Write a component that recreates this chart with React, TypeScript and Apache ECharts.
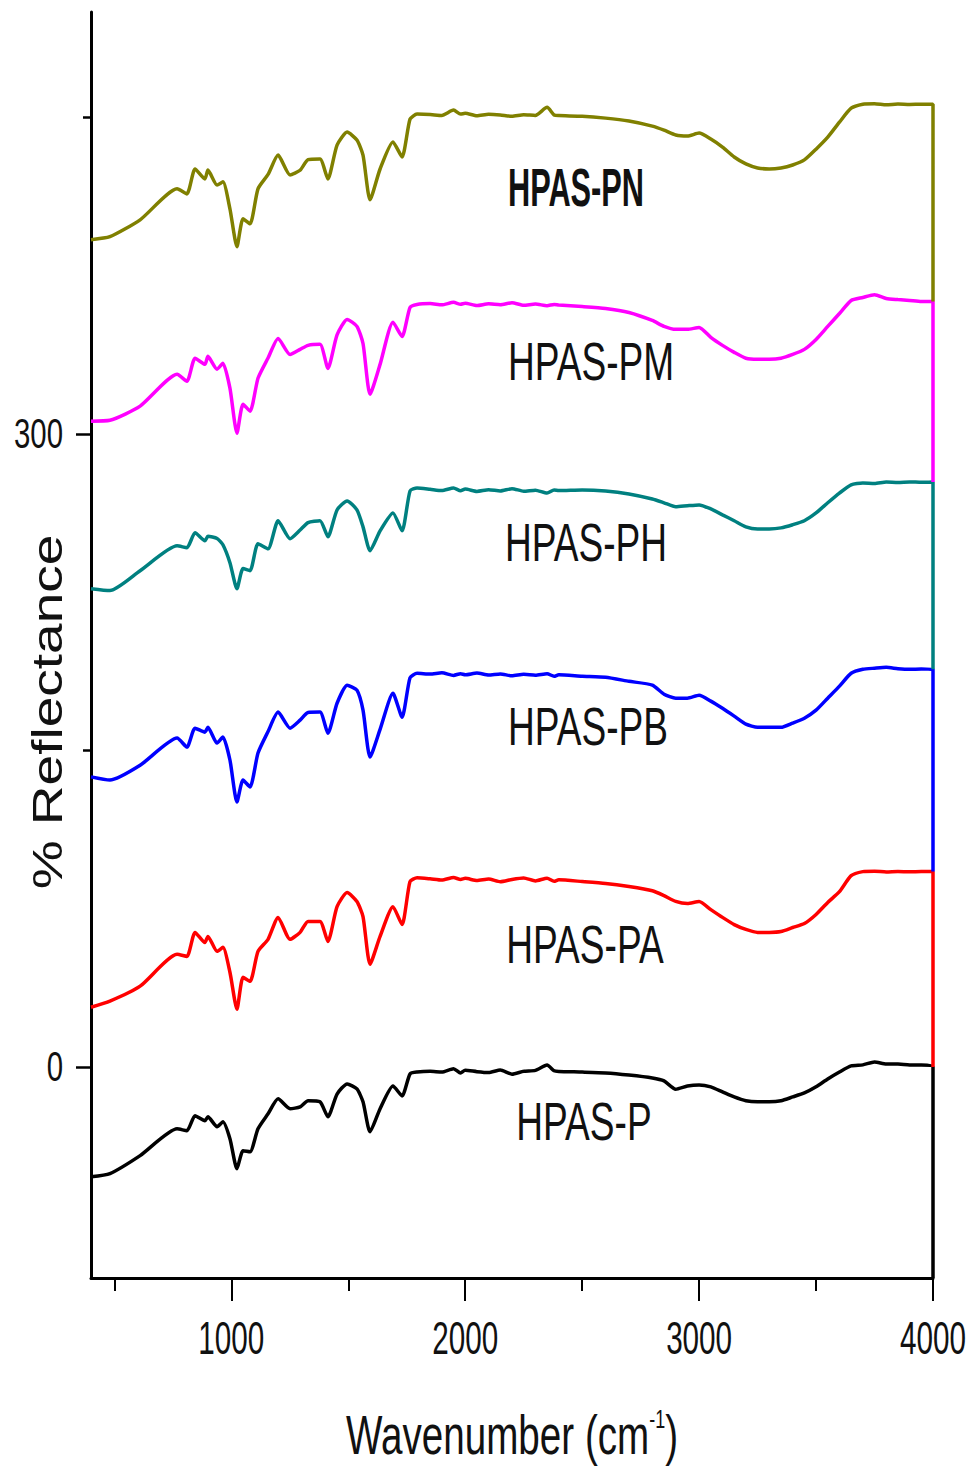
import React, { useEffect, useRef } from "react";
import * as echarts from "echarts";

const wavenumbers = [400, 481, 610, 768, 810, 845, 887, 900, 939, 964, 994, 1024, 1050, 1080, 1114, 1157, 1200, 1251, 1294, 1328, 1379, 1413, 1452, 1495, 1537, 1563, 1593, 1636, 1691, 1730, 1764, 1794, 1850, 1900, 1950, 1980, 2000, 2050, 2100, 2150, 2200, 2250, 2300, 2350, 2380, 2400, 2500, 2600, 2700, 2800, 2850, 2900, 2950, 3000, 3050, 3100, 3150, 3200, 3250, 3300, 3350, 3400, 3450, 3500, 3550, 3600, 3650, 3700, 3750, 3800, 3850, 3900, 3950, 4000];

const hpasP = [-52, -50.5, -42, -29.3, -30.2, -23.1, -25.5, -23.6, -28.3, -26, -34, -48.2, -39.7, -40.2, -29.3, -22.2, -15.1, -19.8, -18.9, -16, -16.5, -23.6, -12.8, -8, -10.4, -16.5, -30.7, -19.8, -9, -13.7, -3.3, -2.4,
  -2.0, -2.4, -0.8, -2.9, -1.5, -2.2, -2.6, -1.4, -3.4, -2.0, -1.6, 0.9, -1.8, -2.1,
  -2.4, -2.8, -3.8, -5.2,
  -6.6, -10.5, -9, -8.5, -9.4, -11.8, -14.2, -16, -16.5, -16.5, -16, -14.2, -12.3, -9.4, -5.7, -2.4, 0.5, 1, 2.4, 1.4, 1.4, 1, 1, 0];

const hpasPA = [28.3, 31.2, 38.3, 53.4, 52.4, 63.8, 59, 61.9, 54.8, 56.7, 44.9, 27.4, 42.5, 40.6, 54.8, 60.5, 70.9, 60.5, 63.8, 69, 69, 59.5, 76, 82.7, 78.4, 71.3, 48.7, 61.9, 76, 67.5, 87.9, 89.7,
  89.2, 88.6, 89.8, 88.9, 89.4, 88.4, 89.1, 87.8, 88.9, 89.6, 88.2, 89.5, 88.0, 88.7,
  87.9, 87, 85.5, 83.5,
  81.2, 78.5, 77.5, 78.4, 74.6, 70.9, 67.5, 65.2, 63.8, 63.8, 64.2, 66.1, 68, 72.3, 78, 83.1, 90.7, 92.6, 92.8, 92.4, 92.6, 92.5, 92.6, 92.6];

const hpasPB = [137.5, 136, 143, 155.9, 151.6, 160.6, 158.7, 161, 153.5, 156.4, 145.5, 125.6, 136, 132.7, 148.8, 159, 168.2, 160.6, 164.4, 168, 168.2, 158.2, 172.4, 180.9, 178.6, 169.1, 146.9, 160, 177.1, 165.8, 184.5, 186.6,
  186.2, 186.8, 185.6, 186.4, 185.9, 186.7, 185.8, 186.3, 185.4, 186.1, 185.7, 186.4, 185.2, 185.9,
  185.2, 184.7, 182.8, 181,
  176.7, 174.8, 174.8, 176.2, 173.4, 170, 166.3, 162.5, 161, 161, 161, 163, 165.3, 169.1, 174.8, 180.5, 186.6, 188.5, 189, 189.4, 188.8, 188.5, 188.6, 188.5];

const hpasPH = [226.7, 225.8, 235.2, 247, 246.1, 253.2, 249.4, 251.5, 250.5, 247.5, 239, 226.7, 236.2, 235.2, 248, 245.6, 258.9, 250.4, 254.5, 258, 258.9, 251.3, 264, 268.3, 264, 256, 244.7, 254.1, 262.6, 254.1, 273, 274.4,
  273.8, 273.2, 274.4, 273.1, 273.9, 272.8, 273.6, 273.0, 274.1, 272.9, 273.4, 272.0, 273.5, 273.2,
  273.5, 273, 271.6, 269.2,
  267.4, 265.5, 266, 266.4, 264.5, 261.7, 258.9, 256, 255, 255, 255.5, 257, 258.9, 262.6, 267.4, 272, 275.9, 276.8, 276.5, 277.2, 277, 277.3, 277.1, 277.3];

const hpasPM = [306.1, 306.5, 313.2, 328.3, 325, 335.9, 333, 336.8, 330.7, 333.5, 321.7, 300.4, 314.1, 310.8, 326.4, 336, 345.3, 337.7, 340.1, 342, 342.5, 331.1, 347, 354.3, 351, 342.9, 318.8, 333, 353, 346.2, 360, 361.4,
  361.8, 361.2, 362.4, 361.5, 362.0, 360.9, 361.7, 361.3, 362.2, 361.0, 361.6, 360.8, 361.4, 361.1,
  360.4, 359.5, 357.6, 353.8,
  351, 349.6, 349.6, 350.5, 345.8, 342, 338.7, 335.9, 335.4, 335.4, 335.9, 337.7, 340.1, 344.8, 351, 357.1, 363.3, 364.7, 366, 364.2, 363.7, 363.3, 362.8, 362.8];

const hpasPN = [392.1, 393.5, 401.5, 416.2, 413.8, 425.6, 420.9, 425.1, 418, 419.5, 406.7, 388.8, 402, 399.6, 416.2, 423, 432.2, 422.8, 425, 430, 430.3, 420.9, 436.9, 443.1, 439.3, 432.2, 411, 425.6, 438.4, 431.3, 449.2, 451.6,
  451.4, 451.0, 453.5, 451.6, 452.0, 450.8, 451.5, 451.2, 450.6, 451.3, 451.0, 454.8, 451.2, 450.9,
  450.6, 449.7, 448.3, 445.9,
  444, 441.7, 441.2, 442.6, 439.8, 436, 431.3, 428, 426.1, 425.6, 426.1, 427.5, 429.9, 435, 440.7, 447.8, 454.4, 456.3, 456.5, 456.0, 456.4, 456.2, 456.3, 456.3];

const seriesNames = ["HPAS-P", "HPAS-PA", "HPAS-PB", "HPAS-PH", "HPAS-PM", "HPAS-PN"];
const seriesValues = [hpasP, hpasPA, hpasPB, hpasPH, hpasPM, hpasPN];
const seriesColors = ["#000000", "#ff0000", "#0000ff", "#008080", "#ff00ff", "#808000"];

const xMajorTicks = [1000, 2000, 3000, 4000];
const xMinorTicks = [500, 1500, 2500, 3500];
const yMajorTicks = [0, 300];
const yMinorTicks = [150, 450];

const X_MIN = 400;
const X_MAX = 4000;
const Y_MIN = -100;
const Y_MAX = 500;

const FONT = "'Liberation Sans', Arial, sans-serif";

// label placements (pixels) for the series names
const labelPlacement = [
  { x: 584, y: 1122, bold: false, sx: 0.7 },
  { x: 585, y: 945, bold: false, sx: 0.7 },
  { x: 588, y: 727, bold: false, sx: 0.7 },
  { x: 586, y: 543, bold: false, sx: 0.7 },
  { x: 591, y: 362, bold: false, sx: 0.7 },
  { x: 576, y: 188, bold: true, sx: 0.58 },
];

export default function App() {
  const ref = useRef<HTMLDivElement>(null);

  useEffect(() => {
    const chart = echarts.init(ref.current!, null, { renderer: "svg" });

    const series = seriesValues.map((vals, i) => {
      const data: number[][] = wavenumbers.map((w, k) => [w, vals[k]]);
      const dropTo = i === 0 ? Y_MIN : seriesValues[i - 1][seriesValues[i - 1].length - 1];
      data.push([X_MAX, dropTo]);
      return {
        name: seriesNames[i],
        type: "line",
        data,
        showSymbol: false,
        symbol: "none",
        smooth: 0.2,
        lineStyle: { color: seriesColors[i], width: 3.5 },
        itemStyle: { color: seriesColors[i] },
        xAxisIndex: 0,
        yAxisIndex: 0,
      };
    });

    const option: any = {
      animation: false,
      backgroundColor: "#ffffff",
      grid: { left: 91, right: 45, top: 12, bottom: 192, containLabel: false, outerBoundsMode: "none" },
      xAxis: [
        {
          type: "value",
          min: X_MIN,
          max: X_MAX,
          position: "bottom",
          axisLine: { show: true, onZero: false, lineStyle: { color: "#000", width: 3 } },
          axisTick: { show: true, customValues: xMajorTicks, length: 23, lineStyle: { color: "#000", width: 2 } },
          axisLabel: { show: false },
          splitLine: { show: false },
        },
        {
          type: "value",
          min: X_MIN,
          max: X_MAX,
          position: "bottom",
          offset: 0,
          axisLine: { show: false, onZero: false },
          axisTick: { show: true, customValues: xMinorTicks, length: 13, lineStyle: { color: "#000", width: 2 } },
          axisLabel: { show: false },
          splitLine: { show: false },
        },
      ],
      yAxis: [
        {
          type: "value",
          min: Y_MIN,
          max: Y_MAX,
          position: "left",
          axisLine: { show: true, onZero: false, lineStyle: { color: "#000", width: 3 } },
          axisTick: { show: true, customValues: yMajorTicks, length: 15, lineStyle: { color: "#000", width: 2.5 } },
          axisLabel: { show: false },
          splitLine: { show: false },
        },
        {
          type: "value",
          min: Y_MIN,
          max: Y_MAX,
          position: "left",
          offset: 0,
          axisLine: { show: false, onZero: false },
          axisTick: { show: true, customValues: yMinorTicks, length: 8, lineStyle: { color: "#000", width: 2.5 } },
          axisLabel: { show: false },
          splitLine: { show: false },
        },
      ],
      series,
    };

    chart.setOption(option);

    const px = (v: number) => chart.convertToPixel({ xAxisIndex: 0 }, v) as number;
    const py = (v: number) => chart.convertToPixel({ yAxisIndex: 0 }, v) as number;
    const axisX = px(X_MIN);
    const axisY = py(Y_MIN);

    const graphic: any[] = [];
    xMajorTicks.forEach((v) => {
      graphic.push({
        type: "text",
        x: px(v),
        y: axisY + 60,
        scaleX: 0.645,
        style: { text: String(v), fontSize: 46, fontFamily: FONT, fill: "#111", align: "center", verticalAlign: "middle" },
      });
    });
    yMajorTicks.forEach((v) => {
      graphic.push({
        type: "text",
        x: axisX - 28,
        y: py(v),
        scaleX: 0.7,
        style: { text: String(v), fontSize: 42, fontFamily: FONT, fill: "#111", align: "right", verticalAlign: "middle" },
      });
    });
    graphic.push({
      type: "text",
      x: 47,
      y: 712,
      rotation: Math.PI / 2,
      scaleX: 1.31,
      style: { text: "% Reflectance", fontSize: 42, fontFamily: FONT, fill: "#111", align: "center", verticalAlign: "middle" },
    });
    graphic.push({
      type: "text",
      x: (px(X_MIN) + px(X_MAX)) / 2,
      y: 1434,
      scaleX: 0.69,
      style: {
        text: "{a|Wavenumber (cm}{s|-1}{a|)}",
        align: "center",
        verticalAlign: "middle",
        rich: {
          a: { fontSize: 56, fontFamily: FONT, fill: "#111" },
          s: { fontSize: 26, fontFamily: FONT, fill: "#111", verticalAlign: "top" },
        },
      },
    });
    seriesNames.forEach((name, i) => {
      const p = labelPlacement[i];
      graphic.push({
        type: "text",
        x: p.x,
        y: p.y,
        scaleX: p.sx,
        style: {
          text: name,
          fontSize: 53,
          fontWeight: p.bold ? "bold" : "normal",
          fontFamily: FONT,
          fill: "#111",
          align: "center",
          verticalAlign: "middle",
        },
      });
    });

    chart.setOption({ graphic });

    return () => chart.dispose();
  }, []);

  return <div ref={ref} style={{ position: "fixed", left: 0, top: 0, width: 978, height: 1470 }} />;
}
